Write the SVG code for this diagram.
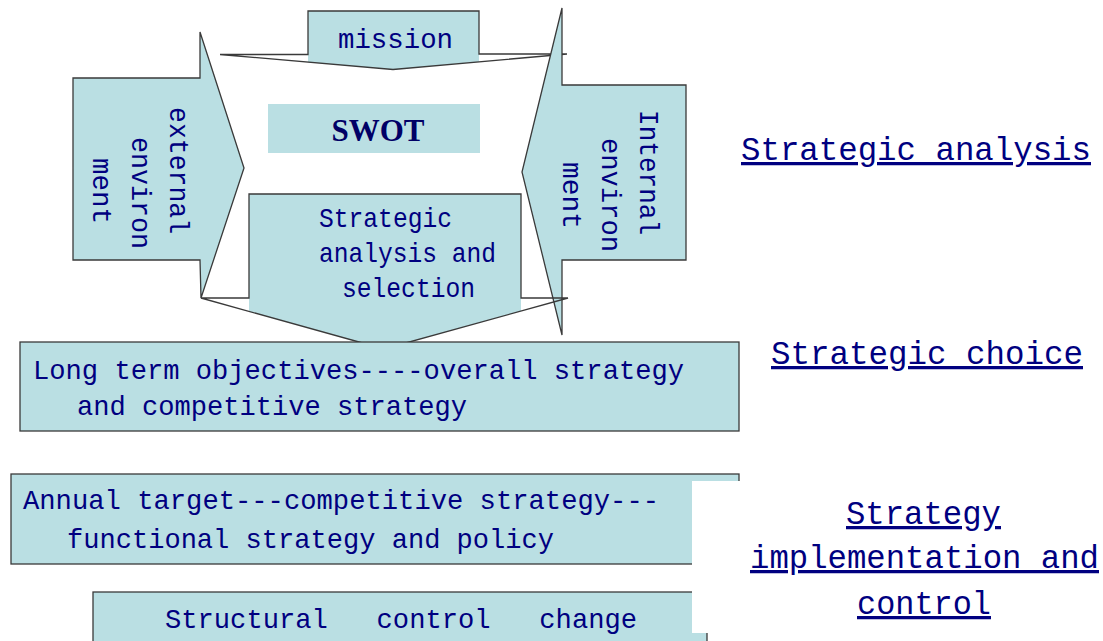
<svg xmlns="http://www.w3.org/2000/svg" width="1103" height="641" viewBox="0 0 1103 641">
<style>
.fill{fill:#badfe3;stroke:none}
.shape{fill:#badfe3;stroke:#3a3a3a;stroke-width:1.3}
.line{fill:none;stroke:#3a3a3a;stroke-width:1.3}
.t{font-family:"Liberation Mono","DejaVu Sans Mono",monospace;font-size:28px;fill:#000080}
.lbl{font-family:"Liberation Mono","DejaVu Sans Mono",monospace;font-size:32.5px;fill:#000080;text-decoration:underline}
.swot{font-family:"Liberation Serif","Times New Roman",serif;font-size:31px;font-weight:bold;fill:#000066}
</style>
<rect width="1103" height="641" fill="#ffffff"/>
<g id="connectors"/>
<g id="mission">
  <polygon class="fill" points="308,11 479,11 479,61.8 393,69.5 308,62.2"/>
  <polygon class="line" points="308,11 479,11 479,54 567,54 393,69.5 220,54.5 308,54.5"/>
  <text class="t" x="338" y="48" textLength="115" lengthAdjust="spacingAndGlyphs">mission</text>
</g>
<g id="external">
  <polygon class="shape" points="73,78 200,78 200,32 244,168 201,298 200,260 73,260"/>
  <text class="t" transform="translate(170,107) rotate(90)" textLength="127" lengthAdjust="spacingAndGlyphs">external</text>
  <text class="t" transform="translate(132,137) rotate(90)" textLength="112" lengthAdjust="spacingAndGlyphs">environ</text>
  <text class="t" transform="translate(93,158) rotate(90)" textLength="66" lengthAdjust="spacingAndGlyphs">ment</text>
</g>
<g id="internal">
  <polygon class="shape" points="686,85 562,85 562,8 522,172 562,335 562,260 686,260"/>
  <text class="t" transform="translate(640,110) rotate(90)" textLength="125" lengthAdjust="spacingAndGlyphs">Internal</text>
  <text class="t" transform="translate(602,138) rotate(90)" textLength="114" lengthAdjust="spacingAndGlyphs">environ</text>
  <text class="t" transform="translate(563,162) rotate(90)" textLength="67" lengthAdjust="spacingAndGlyphs">ment</text>
</g>
<g id="swot">
  <rect class="fill" x="268" y="104" width="212" height="49"/>
  <text class="swot" x="378" y="141" text-anchor="middle">SWOT</text>
</g>
<g id="analysis-selection">
  <polygon class="fill" points="249,194 521,194 521,311 384,349 249,311.4"/>
  <polygon class="line" points="249,298 249,194 521,194 521,298 568,298 384,349 201,298"/>
  <text class="t" x="319" y="227" textLength="133" lengthAdjust="spacingAndGlyphs">Strategic</text>
  <text class="t" x="319" y="262" textLength="177" lengthAdjust="spacingAndGlyphs">analysis and</text>
  <text class="t" x="342" y="297" textLength="133" lengthAdjust="spacingAndGlyphs">selection</text>
</g>
<g id="long-term">
  <rect class="shape" x="20" y="342" width="719" height="89"/>
  <text class="t" x="33" y="379" textLength="651" lengthAdjust="spacingAndGlyphs">Long term objectives----overall strategy</text>
  <text class="t" x="77" y="415" textLength="390" lengthAdjust="spacingAndGlyphs">and competitive strategy</text>
</g>
<g id="annual">
  <rect class="shape" x="11" y="474" width="728" height="90"/>
  <text class="t" x="23" y="509" textLength="636" lengthAdjust="spacingAndGlyphs">Annual target---competitive strategy---</text>
  <text class="t" x="67" y="548" textLength="487" lengthAdjust="spacingAndGlyphs">functional strategy and policy</text>
</g>
<g id="structural">
  <rect class="shape" x="93" y="592" width="614" height="60"/>
  <text class="t" x="165" y="628" textLength="472" lengthAdjust="spacingAndGlyphs" xml:space="preserve">Structural   control   change</text>
</g>
<g id="label-analysis">
  <text class="lbl" x="741" y="160" textLength="350" lengthAdjust="spacingAndGlyphs">Strategic analysis</text>
</g>
<g id="label-choice">
  <text class="lbl" x="771" y="364" textLength="312" lengthAdjust="spacingAndGlyphs">Strategic choice</text>
</g>
<g id="label-implementation">
  <rect x="692" y="481" width="411" height="152" fill="#ffffff"/>
  <text class="lbl" x="846" y="524" textLength="155" lengthAdjust="spacingAndGlyphs">Strategy</text>
  <text class="lbl" x="750" y="568" textLength="349" lengthAdjust="spacingAndGlyphs">implementation and</text>
  <text class="lbl" x="857" y="614" textLength="134" lengthAdjust="spacingAndGlyphs">control</text>
</g>
</svg>
